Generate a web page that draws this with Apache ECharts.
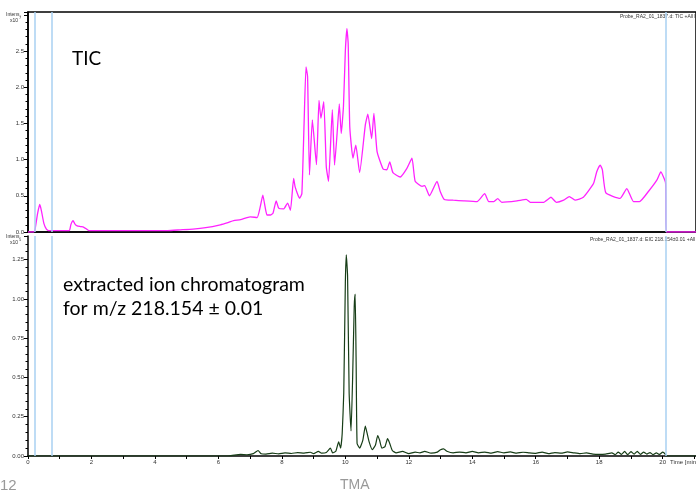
<!DOCTYPE html>
<html>
<head>
<meta charset="utf-8">
<script src="https://cdn.jsdelivr.net/npm/echarts@6/dist/echarts.min.js"></script>
<style>
  html, body { margin: 0; padding: 0; background: #fff; }
  #main { width: 696px; height: 496px; }
</style>
</head>
<body>
<div id="main"></div>
<script>
// TIC trace, [time (min), intensity x10^7]
var ticData = [
  [0, 0], [0.18, 0], [0.22, 0.03], [0.3, 0.25], [0.37, 0.38], [0.42, 0.3], [0.5, 0.12], [0.58, 0.04], [0.65, 0.02],
  [1.3, 0.02], [1.35, 0.1], [1.42, 0.156], [1.48, 0.11], [1.55, 0.085], [1.65, 0.075], [1.76, 0.065], [1.85, 0.04], [1.92, 0.02],
  [4.4, 0.02], [4.8, 0.03], [5.2, 0.04], [5.6, 0.06], [6.06, 0.1], [6.3, 0.13], [6.48, 0.156], [6.7, 0.17], [7.0, 0.21],
  [7.22, 0.2], [7.32, 0.35], [7.4, 0.51], [7.47, 0.35], [7.53, 0.235], [7.64, 0.235], [7.72, 0.26], [7.82, 0.43], [7.9, 0.33],
  [8.06, 0.32], [8.18, 0.4], [8.27, 0.3], [8.37, 0.74], [8.42, 0.62], [8.56, 0.465], [8.63, 0.53], [8.7, 1.5], [8.76, 2.28],
  [8.81, 2.15], [8.87, 0.79], [8.96, 1.55], [9.09, 0.93], [9.17, 1.82], [9.23, 1.57], [9.32, 1.8], [9.4, 0.9], [9.47, 0.7],
  [9.59, 1.69], [9.66, 0.925], [9.74, 1.36], [9.81, 1.77], [9.87, 1.36], [9.94, 1.73], [10.0, 2.5], [10.05, 2.81], [10.09, 2.6],
  [10.14, 1.45], [10.24, 1.02], [10.33, 1.2], [10.45, 0.82], [10.63, 1.48], [10.71, 1.63], [10.83, 1.29], [10.9, 1.64],
  [11.0, 1.11], [11.19, 0.87], [11.31, 0.86], [11.4, 0.97], [11.5, 0.82], [11.73, 0.76], [11.94, 0.88], [12.1, 1.02],
  [12.2, 0.7], [12.42, 0.63], [12.5, 0.64], [12.65, 0.5], [12.89, 0.7], [12.99, 0.56], [13.12, 0.45], [13.4, 0.44], [13.73, 0.43],
  [14.15, 0.42], [14.39, 0.53], [14.52, 0.42], [14.68, 0.42], [14.8, 0.46], [14.93, 0.41], [15.41, 0.43], [15.7, 0.45],
  [15.83, 0.41], [16.24, 0.41], [16.48, 0.48], [16.65, 0.41], [16.88, 0.44], [17.06, 0.49], [17.24, 0.44], [17.5, 0.48],
  [17.82, 0.67], [17.92, 0.83], [18.03, 0.925], [18.1, 0.86], [18.21, 0.54], [18.66, 0.465], [18.87, 0.6], [19.08, 0.42],
  [19.27, 0.42], [19.55, 0.56], [19.82, 0.72], [19.94, 0.83], [20.09, 0.68], [20.11, 0], [21.05, 0]
];

// EIC m/z 218.154, [time (min), intensity x10^5]
var eicData = [
  [0, 0], [6.3, 0], [6.5, 0.006], [6.7, 0.01], [6.9, 0.008], [7.1, 0.015], [7.25, 0.035], [7.35, 0.014], [7.5, 0.012],
  [7.7, 0.018], [7.9, 0.014], [8.1, 0.02], [8.3, 0.016], [8.5, 0.022], [8.7, 0.018], [8.9, 0.024], [9.0, 0.015],
  [9.15, 0.03], [9.25, 0.018], [9.4, 0.022], [9.53, 0.05], [9.6, 0.02], [9.7, 0.03], [9.79, 0.09], [9.85, 0.05],
  [9.9, 0.14], [9.95, 0.4], [10.0, 1.1], [10.03, 1.28], [10.07, 1.15], [10.12, 0.4], [10.18, 0.16], [10.23, 0.5],
  [10.28, 0.95], [10.31, 1.03], [10.34, 0.6], [10.37, 0.08], [10.45, 0.05], [10.55, 0.1], [10.63, 0.19], [10.68, 0.15],
  [10.75, 0.09], [10.85, 0.04], [10.95, 0.07], [11.02, 0.13], [11.08, 0.1], [11.15, 0.05], [11.25, 0.06], [11.33, 0.11],
  [11.4, 0.08], [11.48, 0.035], [11.6, 0.02], [11.8, 0.03], [12.0, 0.015], [12.2, 0.025], [12.35, 0.02], [12.5, 0.03],
  [12.7, 0.018], [12.9, 0.025], [13.0, 0.04], [13.1, 0.045], [13.2, 0.03], [13.4, 0.02], [13.6, 0.025], [13.8, 0.02],
  [14.0, 0.03], [14.2, 0.02], [14.4, 0.025], [14.6, 0.018], [14.8, 0.028], [15.0, 0.02], [15.2, 0.026], [15.4, 0.018],
  [15.6, 0.024], [15.8, 0.02], [16.0, 0.017], [16.2, 0.025], [16.4, 0.015], [16.6, 0.022], [16.8, 0.018], [17.0, 0.026],
  [17.2, 0.02], [17.4, 0.015], [17.6, 0.02], [17.8, 0.012], [18.0, 0.01], [18.2, 0.012], [18.4, 0.02], [18.5, 0.008],
  [18.6, 0.025], [18.7, 0.01], [18.8, 0.03], [18.9, 0.008], [19.0, 0.028], [19.1, 0.012], [19.2, 0.03], [19.3, 0.01],
  [19.4, 0.025], [19.5, 0.012], [19.6, 0.022], [19.7, 0.008], [19.8, 0.02], [19.9, 0.01], [20.0, 0.025], [20.08, 0.012],
  [20.1, 0], [21.05, 0]
];

// vertical markers (min)
var markerTimes = [0.2, 0.75, 20.1];

var xTicks = { min: 0, max: 21.05, interval: 2 };
var ticAxis = { min: 0, max: 3.04, interval: 0.5 };
var eicAxis = { min: 0, max: 1.4, interval: 0.25 };

var chart = echarts.init(document.getElementById('main'));

var markLines = {
  silent: true,
  symbol: 'none',
  label: { show: false },
  lineStyle: { color: '#a9d0f2', width: 1.5, type: 'solid' },
  data: markerTimes.map(function (t) { return { xAxis: t }; })
};

var tickFont = { fontFamily: 'Liberation Sans', fontSize: 6, color: '#333' };
var smallFont = 'Liberation Sans';

var option = {
  animation: false,
  backgroundColor: '#fff',
  grid: [
    { left: 28, right: 0, top: 12, height: 220, show: true, borderColor: '#000', borderWidth: 1.5, backgroundColor: 'transparent' },
    { left: 28, right: 0, top: 236, height: 220 }
  ],
  xAxis: [
    {
      gridIndex: 0, type: 'value', min: xTicks.min, max: xTicks.max, interval: xTicks.interval,
      axisLine: { show: true, onZero: false, lineStyle: { color: '#000', width: 1.5 } },
      axisTick: { show: false }, axisLabel: { show: false }, splitLine: { show: false }
    },
    {
      gridIndex: 1, type: 'value', min: xTicks.min, max: xTicks.max, interval: xTicks.interval,
      axisLine: { show: true, onZero: false, lineStyle: { color: '#000', width: 1.5 } },
      axisTick: { show: true, length: 3, lineStyle: { color: '#000' } },
      minorTick: { show: true, splitNumber: 2, length: 3, lineStyle: { color: '#000' } },
      axisLabel: Object.assign({ margin: 3, showMaxLabel: false }, tickFont),
      splitLine: { show: false }
    }
  ],
  yAxis: [
    {
      gridIndex: 0, type: 'value', min: ticAxis.min, max: ticAxis.max, interval: ticAxis.interval,
      axisLine: { show: true, lineStyle: { color: '#000', width: 1.5 } },
      axisTick: { show: true, length: 4, lineStyle: { color: '#000' } },
      minorTick: { show: true, splitNumber: 5, length: 2.5, lineStyle: { color: '#000' } },
      axisLabel: Object.assign({
        margin: 4, showMaxLabel: false,
        formatter: function (v) { return v >= 3 ? '' : v.toFixed(1); }
      }, tickFont),
      splitLine: { show: false }
    },
    {
      gridIndex: 1, type: 'value', min: eicAxis.min, max: eicAxis.max, interval: eicAxis.interval,
      axisLine: { show: true, lineStyle: { color: '#000', width: 1.5 } },
      axisTick: { show: true, length: 4, lineStyle: { color: '#000' } },
      minorTick: { show: true, splitNumber: 5, length: 2.5, lineStyle: { color: '#000' } },
      axisLabel: Object.assign({
        margin: 4, showMaxLabel: false,
        formatter: function (v) { return v.toFixed(2); }
      }, tickFont),
      splitLine: { show: false }
    }
  ],
  series: [
    {
      name: 'TIC', type: 'line', xAxisIndex: 0, yAxisIndex: 0, data: ticData,
      showSymbol: false, smooth: 0.15, lineStyle: { color: '#ff22ff', width: 1.3 },
      markLine: markLines, z: 3
    },
    {
      name: 'EIC', type: 'line', xAxisIndex: 1, yAxisIndex: 1, data: eicData,
      showSymbol: false, smooth: 0.15, lineStyle: { color: '#173d17', width: 1.2 },
      markLine: markLines, z: 3
    }
  ],
  graphic: [
    { type: 'text', left: 6, top: 12, style: { text: 'Intens.', font: '5px ' + smallFont, fill: '#333' } },
    { type: 'text', left: 10, top: 18, style: { text: 'x10', font: '5px ' + smallFont, fill: '#333' } },
    { type: 'text', left: 19, top: 16, style: { text: '7', font: '4px ' + smallFont, fill: '#333' } },
    { type: 'text', left: 6, top: 234, style: { text: 'Intens.', font: '5px ' + smallFont, fill: '#333' } },
    { type: 'text', left: 10, top: 240, style: { text: 'x10', font: '5px ' + smallFont, fill: '#333' } },
    { type: 'text', left: 19, top: 238, style: { text: '5', font: '4px ' + smallFont, fill: '#333' } },
    { type: 'text', left: 620, top: 14, style: { text: 'Probe_RA2_01_1837.d: TIC +All MS', font: '5px ' + smallFont, fill: '#333' } },
    { type: 'text', left: 590, top: 237, style: { text: 'Probe_RA2_01_1837.d: EIC 218.154\u00b10.01 +All MS', font: '5px ' + smallFont, fill: '#333' } },
    { type: 'text', left: 670, top: 459, style: { text: 'Time [min]', font: '6px ' + smallFont, fill: '#333' } },
    { type: 'text', left: 72, top: 49, style: { text: 'TIC', font: '19px Lato', fill: '#000' } },
    { type: 'text', left: 63, top: 273, style: { text: 'extracted ion chromatogram\nfor m/z 218.154 \u00b1 0.01', font: '19.5px Lato', lineHeight: 24, fill: '#000' } },
    { type: 'text', left: 0, top: 478, style: { text: '12', font: '15px Liberation Sans', fill: '#999' } },
    { type: 'text', left: 340, top: 478, style: { text: 'TMA', font: '14px Liberation Sans', fill: '#999' } }
  ]
};

chart.setOption(option);
</script>
</body>
</html>
